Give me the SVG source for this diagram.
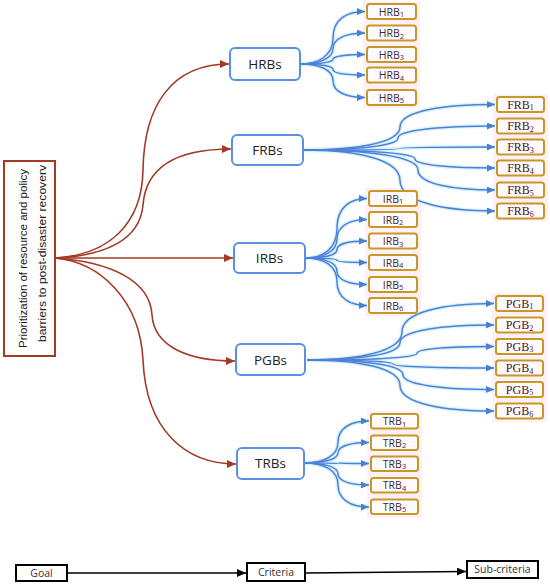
<svg xmlns="http://www.w3.org/2000/svg" width="550" height="586" viewBox="0 0 550 586">
<style>
.goal{fill:#fff;stroke:#a33a26;stroke-width:2}
.crit{fill:#fff;stroke:#5b8fe3;stroke-width:2}
.sub{fill:#fffafb;stroke:#c9962a;stroke-width:2}
.bg{fill:#fdf1f5}
.red{fill:none;stroke:#a33a26;stroke-width:1.6}
.halo{fill:none;stroke:#d6f3fb;stroke-width:4}
.blue{fill:none;stroke:#4f80d8;stroke-width:1.5}
.blk{fill:none;stroke:#000;stroke-width:1.6}
.lbl{font-family:"Open Sans","Liberation Sans",sans-serif;font-size:13.5px;fill:#222;text-anchor:middle}
.ss{font-family:"Open Sans","Liberation Sans",sans-serif;font-size:10.5px;fill:#3a2a3a;text-anchor:middle}
.sf{font-family:"Liberation Serif","Times New Roman",serif;font-size:12px;fill:#4a1526;text-anchor:middle}
.g{font-family:"Liberation Sans",Arial,sans-serif;font-size:11px;fill:#1a1a1a;text-anchor:middle}
.lg{font-family:"Open Sans","Liberation Sans",sans-serif;font-size:10.5px;fill:#333;text-anchor:middle}
</style>
<defs>
<marker id="ar" markerUnits="userSpaceOnUse" markerWidth="9" markerHeight="8" refX="9" refY="4" orient="auto"><path d="M0,0 L9,4 L0,8 z" fill="#a33a26"/></marker>
<marker id="ab" markerUnits="userSpaceOnUse" markerWidth="8" markerHeight="7" refX="8" refY="3.5" orient="auto"><path d="M0,0 L8,3.5 L0,7 z" fill="#4a7fd6"/></marker>
<marker id="ak" markerUnits="userSpaceOnUse" markerWidth="9" markerHeight="8" refX="9" refY="4" orient="auto"><path d="M0,0 L9,4 L0,8 z" fill="#000"/></marker>
</defs>
<rect width="550" height="586" fill="#fff"/>

<g id="backgrounds">
<rect class="bg" x="363" y="1" width="57" height="107"/>
<rect class="bg" x="493" y="94" width="55" height="127"/>
<rect class="bg" x="365" y="188" width="56" height="128"/>
<rect class="bg" x="492" y="293" width="55" height="129"/>
<rect class="bg" x="367" y="411" width="55" height="107"/>
</g>

<g id="connectors">
<path class="red" marker-end="url(#ar)" d="M55,258 C108,255 142,225 143,170 C144,105 172,64 229,64"/>
<path class="red" marker-end="url(#ar)" d="M55,258 C105,256 140,240 143,205 C146,165 180,149 231,149"/>
<path class="red" marker-end="url(#ar)" d="M55,258 L233,258"/>
<path class="red" marker-end="url(#ar)" d="M55,258 C110,262 150,280 152,315 C154,345 185,361 235,361"/>
<path class="red" marker-end="url(#ar)" d="M55,258 C100,262 140,300 143,360 C146,430 185,464 236,464"/>

<g id="halos">
<path class="halo" d="M300,64 C318,64 333,56 333,38 C333,19 347,11.5 365,11.5"/>
<path class="halo" d="M300,64 C318,64 333,59 333,48.5 C333,38 347,33 365,33"/>
<path class="halo" d="M300,64 C318,64 333,62.6 333,59.3 C333,56 347,54.5 365,54.5"/>
<path class="halo" d="M300,64 C318,64 333,65.7 333,69.5 C333,73.4 347,75 365,75"/>
<path class="halo" d="M300,64 C318,64 333,69 333,80.8 C333,92.5 347,97.5 365,97.5"/>
<path class="halo" d="M303,150 C356,150 400,143 400,127 C400,111 443,104.5 495,104.5"/>
<path class="halo" d="M303,150 C355,150 398,146 398,138 C398,130 442,126 495,126"/>
<path class="halo" d="M303,150 C356,150 400,149.5 400,148.5 C400,147.5 443,147 495,147"/>
<path class="halo" d="M303,150 C365,150 415,153 415,159 C415,165 451,168 495,168"/>
<path class="halo" d="M303,150 C366,150 418,156 418,170 C418,184 453,190 495,190"/>
<path class="halo" d="M303,150 C356,150 400,159 400,180.5 C400,202 443,211 495,211"/>
<path class="halo" d="M305,258 C323,258 337,249 337,228 C337,207 350.5,198.5 367,198.5"/>
<path class="halo" d="M305,258 C323,258 337,252 337,238.8 C337,225.3 350.5,219.5 367,219.5"/>
<path class="halo" d="M305,258 C323,258 337,255.5 337,249.5 C337,243.5 350.5,241 367,241"/>
<path class="halo" d="M305,258 C323,258 337,258.7 337,260.3 C337,261.8 350.5,262.5 367,262.5"/>
<path class="halo" d="M305,258 C323,258 337,262 337,271.3 C337,280.5 350.5,284.5 367,284.5"/>
<path class="halo" d="M305,258 C323,258 337,265.1 337,281.8 C337,298.4 350.5,305.5 367,305.5"/>
<path class="halo" d="M307,360 C359,360 402,351.5 402,331.8 C402,312 443,303.5 494,303.5"/>
<path class="halo" d="M307,360 C358,360 400,354.8 400,342.5 C400,330.3 443,325 494,325"/>
<path class="halo" d="M307,360 C367.5,360 417,358 417,353.3 C417,348.5 452,346.5 494,346.5"/>
<path class="halo" d="M307,360 C354,360 393,361.2 393,364 C393,366.8 438.5,368 494,368"/>
<path class="halo" d="M307,360 C360,360 403,364.4 403,374.8 C403,385 443.5,389.5 494,389.5"/>
<path class="halo" d="M307,360 C358,360 400,367.7 400,385.5 C400,403.4 443,411 494,411"/>
<path class="halo" d="M304,463 C322.7,463 338,456.7 338,442 C338,427.3 352,421 369,421"/>
<path class="halo" d="M304,463 C322.7,463 338,459.9 338,452.8 C338,445.6 352,442.5 369,442.5"/>
<path class="halo" d="M304,463 C322.7,463 338,463.1 338,463.3 C338,463.4 352,463.5 369,463.5"/>
<path class="halo" d="M304,463 C322.7,463 338,466.3 338,474 C338,481.7 352,485 369,485"/>
<path class="halo" d="M304,463 C322.7,463 338,469.6 338,485 C338,500.4 352,507 369,507"/>
</g>

<g id="blue-arrows">
<path class="blue" marker-end="url(#ab)" d="M300,64 C318,64 333,56 333,38 C333,19 347,11.5 365,11.5"/>
<path class="blue" marker-end="url(#ab)" d="M300,64 C318,64 333,59 333,48.5 C333,38 347,33 365,33"/>
<path class="blue" marker-end="url(#ab)" d="M300,64 C318,64 333,62.6 333,59.3 C333,56 347,54.5 365,54.5"/>
<path class="blue" marker-end="url(#ab)" d="M300,64 C318,64 333,65.7 333,69.5 C333,73.4 347,75 365,75"/>
<path class="blue" marker-end="url(#ab)" d="M300,64 C318,64 333,69 333,80.8 C333,92.5 347,97.5 365,97.5"/>
<path class="blue" marker-end="url(#ab)" d="M303,150 C356,150 400,143 400,127 C400,111 443,104.5 495,104.5"/>
<path class="blue" marker-end="url(#ab)" d="M303,150 C355,150 398,146 398,138 C398,130 442,126 495,126"/>
<path class="blue" marker-end="url(#ab)" d="M303,150 C356,150 400,149.5 400,148.5 C400,147.5 443,147 495,147"/>
<path class="blue" marker-end="url(#ab)" d="M303,150 C365,150 415,153 415,159 C415,165 451,168 495,168"/>
<path class="blue" marker-end="url(#ab)" d="M303,150 C366,150 418,156 418,170 C418,184 453,190 495,190"/>
<path class="blue" marker-end="url(#ab)" d="M303,150 C356,150 400,159 400,180.5 C400,202 443,211 495,211"/>
<path class="blue" marker-end="url(#ab)" d="M305,258 C323,258 337,249 337,228 C337,207 350.5,198.5 367,198.5"/>
<path class="blue" marker-end="url(#ab)" d="M305,258 C323,258 337,252 337,238.8 C337,225.3 350.5,219.5 367,219.5"/>
<path class="blue" marker-end="url(#ab)" d="M305,258 C323,258 337,255.5 337,249.5 C337,243.5 350.5,241 367,241"/>
<path class="blue" marker-end="url(#ab)" d="M305,258 C323,258 337,258.7 337,260.3 C337,261.8 350.5,262.5 367,262.5"/>
<path class="blue" marker-end="url(#ab)" d="M305,258 C323,258 337,262 337,271.3 C337,280.5 350.5,284.5 367,284.5"/>
<path class="blue" marker-end="url(#ab)" d="M305,258 C323,258 337,265.1 337,281.8 C337,298.4 350.5,305.5 367,305.5"/>
<path class="blue" marker-end="url(#ab)" d="M307,360 C359,360 402,351.5 402,331.8 C402,312 443,303.5 494,303.5"/>
<path class="blue" marker-end="url(#ab)" d="M307,360 C358,360 400,354.8 400,342.5 C400,330.3 443,325 494,325"/>
<path class="blue" marker-end="url(#ab)" d="M307,360 C367.5,360 417,358 417,353.3 C417,348.5 452,346.5 494,346.5"/>
<path class="blue" marker-end="url(#ab)" d="M307,360 C354,360 393,361.2 393,364 C393,366.8 438.5,368 494,368"/>
<path class="blue" marker-end="url(#ab)" d="M307,360 C360,360 403,364.4 403,374.8 C403,385 443.5,389.5 494,389.5"/>
<path class="blue" marker-end="url(#ab)" d="M307,360 C358,360 400,367.7 400,385.5 C400,403.4 443,411 494,411"/>
<path class="blue" marker-end="url(#ab)" d="M304,463 C322.7,463 338,456.7 338,442 C338,427.3 352,421 369,421"/>
<path class="blue" marker-end="url(#ab)" d="M304,463 C322.7,463 338,459.9 338,452.8 C338,445.6 352,442.5 369,442.5"/>
<path class="blue" marker-end="url(#ab)" d="M304,463 C322.7,463 338,463.1 338,463.3 C338,463.4 352,463.5 369,463.5"/>
<path class="blue" marker-end="url(#ab)" d="M304,463 C322.7,463 338,466.3 338,474 C338,481.7 352,485 369,485"/>
<path class="blue" marker-end="url(#ab)" d="M304,463 C322.7,463 338,469.6 338,485 C338,500.4 352,507 369,507"/>
</g>

<path class="blk" marker-end="url(#ak)" d="M67,573 L246,573"/>
<path class="blk" marker-end="url(#ak)" d="M306,573 L466,571.5"/>
</g>

<g id="goal">
<rect class="goal" x="4" y="161" width="51" height="195"/>
<text class="g" transform="translate(27,258.5) rotate(-90)" textLength="179" lengthAdjust="spacingAndGlyphs">Prioritization of resource and policy</text>
<text class="g" transform="translate(46,253.5) rotate(-90)" textLength="177" lengthAdjust="spacingAndGlyphs">barriers to post-disaster recoverv</text>
</g>

<g id="HRBs"><rect class="crit" x="230" y="48" width="70" height="32" rx="5"/><text class="lbl" x="265" y="69">HRBs</text></g>
<g id="FRBs"><rect class="crit" x="232" y="135" width="71" height="30" rx="5"/><text class="lbl" x="267.5" y="155">FRBs</text></g>
<g id="IRBs"><rect class="crit" x="234" y="243" width="71" height="30" rx="5"/><text class="lbl" x="269.5" y="263">IRBs</text></g>
<g id="PGBs"><rect class="crit" x="236" y="344" width="69" height="31" rx="5"/><text class="lbl" x="270.5" y="364.5">PGBs</text></g>
<g id="TRBs"><rect class="crit" x="237" y="448" width="67" height="31" rx="5"/><text class="lbl" x="270.5" y="468">TRBs</text></g>

<g id="HRB1"><rect class="sub" x="367" y="4" width="49" height="15" rx="2.5"/><text class="ss" x="391.5" y="15.5">HRB<tspan font-size="7.5" dy="1.5">1</tspan></text></g>
<g id="HRB2"><rect class="sub" x="367" y="25.5" width="49" height="15" rx="2.5"/><text class="ss" x="391.5" y="37">HRB<tspan font-size="7.5" dy="1.5">2</tspan></text></g>
<g id="HRB3"><rect class="sub" x="367" y="47" width="49" height="15" rx="2.5"/><text class="ss" x="391.5" y="58.5">HRB<tspan font-size="7.5" dy="1.5">3</tspan></text></g>
<g id="HRB4"><rect class="sub" x="367" y="67.5" width="49" height="15" rx="2.5"/><text class="ss" x="391.5" y="79">HRB<tspan font-size="7.5" dy="1.5">4</tspan></text></g>
<g id="HRB5"><rect class="sub" x="367" y="90" width="49" height="15" rx="2.5"/><text class="ss" x="391.5" y="101.5">HRB<tspan font-size="7.5" dy="1.5">5</tspan></text></g>

<g id="FRB1"><rect class="sub" x="497" y="97" width="47" height="15" rx="2.5"/><text class="sf" x="520.5" y="108.5">FRB<tspan font-size="8" dy="1.5">1</tspan></text></g>
<g id="FRB2"><rect class="sub" x="497" y="118.5" width="47" height="15" rx="2.5"/><text class="sf" x="520.5" y="130">FRB<tspan font-size="8" dy="1.5">2</tspan></text></g>
<g id="FRB3"><rect class="sub" x="497" y="139.5" width="47" height="15" rx="2.5"/><text class="sf" x="520.5" y="151">FRB<tspan font-size="8" dy="1.5">3</tspan></text></g>
<g id="FRB4"><rect class="sub" x="497" y="160.5" width="47" height="15" rx="2.5"/><text class="sf" x="520.5" y="172">FRB<tspan font-size="8" dy="1.5">4</tspan></text></g>
<g id="FRB5"><rect class="sub" x="497" y="182.5" width="47" height="15" rx="2.5"/><text class="sf" x="520.5" y="194">FRB<tspan font-size="8" dy="1.5">5</tspan></text></g>
<g id="FRB6"><rect class="sub" x="497" y="203.5" width="47" height="15" rx="2.5"/><text class="sf" x="520.5" y="215">FRB<tspan font-size="8" dy="1.5">6</tspan></text></g>

<g id="IRB1"><rect class="sub" x="369" y="191" width="48" height="15" rx="2.5"/><text class="ss" x="393" y="202.5">IRB<tspan font-size="7.5" dy="1.5">1</tspan></text></g>
<g id="IRB2"><rect class="sub" x="369" y="212" width="48" height="15" rx="2.5"/><text class="ss" x="393" y="223.5">IRB<tspan font-size="7.5" dy="1.5">2</tspan></text></g>
<g id="IRB3"><rect class="sub" x="369" y="233.5" width="48" height="15" rx="2.5"/><text class="ss" x="393" y="245">IRB<tspan font-size="7.5" dy="1.5">3</tspan></text></g>
<g id="IRB4"><rect class="sub" x="369" y="255" width="48" height="15" rx="2.5"/><text class="ss" x="393" y="266.5">IRB<tspan font-size="7.5" dy="1.5">4</tspan></text></g>
<g id="IRB5"><rect class="sub" x="369" y="277" width="48" height="15" rx="2.5"/><text class="ss" x="393" y="288.5">IRB<tspan font-size="7.5" dy="1.5">5</tspan></text></g>
<g id="IRB6"><rect class="sub" x="369" y="298" width="48" height="15" rx="2.5"/><text class="ss" x="393" y="309.5">IRB<tspan font-size="7.5" dy="1.5">6</tspan></text></g>

<g id="PGB1"><rect class="sub" x="496" y="296" width="47" height="15" rx="2.5"/><text class="sf" x="519.5" y="307.5">PGB<tspan font-size="8" dy="1.5">1</tspan></text></g>
<g id="PGB2"><rect class="sub" x="496" y="317.5" width="47" height="15" rx="2.5"/><text class="sf" x="519.5" y="329">PGB<tspan font-size="8" dy="1.5">2</tspan></text></g>
<g id="PGB3"><rect class="sub" x="496" y="339" width="47" height="15" rx="2.5"/><text class="sf" x="519.5" y="350.5">PGB<tspan font-size="8" dy="1.5">3</tspan></text></g>
<g id="PGB4"><rect class="sub" x="496" y="360.5" width="47" height="15" rx="2.5"/><text class="sf" x="519.5" y="372">PGB<tspan font-size="8" dy="1.5">4</tspan></text></g>
<g id="PGB5"><rect class="sub" x="496" y="382" width="47" height="15" rx="2.5"/><text class="sf" x="519.5" y="393.5">PGB<tspan font-size="8" dy="1.5">5</tspan></text></g>
<g id="PGB6"><rect class="sub" x="496" y="403.5" width="47" height="15" rx="2.5"/><text class="sf" x="519.5" y="415">PGB<tspan font-size="8" dy="1.5">6</tspan></text></g>

<g id="TRB1"><rect class="sub" x="371" y="414" width="47" height="14.5" rx="2.5"/><text class="ss" x="394.5" y="425">TRB<tspan font-size="7.5" dy="1.5">1</tspan></text></g>
<g id="TRB2"><rect class="sub" x="371" y="435.5" width="47" height="14.5" rx="2.5"/><text class="ss" x="394.5" y="446.5">TRB<tspan font-size="7.5" dy="1.5">2</tspan></text></g>
<g id="TRB3"><rect class="sub" x="371" y="456.5" width="47" height="14.5" rx="2.5"/><text class="ss" x="394.5" y="467.5">TRB<tspan font-size="7.5" dy="1.5">3</tspan></text></g>
<g id="TRB4"><rect class="sub" x="371" y="478" width="47" height="14.5" rx="2.5"/><text class="ss" x="394.5" y="489">TRB<tspan font-size="7.5" dy="1.5">4</tspan></text></g>
<g id="TRB5"><rect class="sub" x="371" y="499.5" width="47" height="14.5" rx="2.5"/><text class="ss" x="394.5" y="510.5">TRB<tspan font-size="7.5" dy="1.5">5</tspan></text></g>

<g id="legend-goal"><rect x="16" y="565" width="51" height="16" fill="#fff" stroke="#000" stroke-width="2"/><text class="lg" x="41.5" y="576.5">Goal</text></g>
<g id="legend-criteria"><rect x="247" y="563" width="58" height="18" fill="#fff" stroke="#000" stroke-width="2"/><text class="lg" x="276" y="575.5">Criteria</text></g>
<g id="legend-subcriteria"><rect x="467" y="561" width="71" height="17" fill="#fff" stroke="#000" stroke-width="2"/><text class="lg" x="502.5" y="573">Sub-criteria</text></g>
</svg>
